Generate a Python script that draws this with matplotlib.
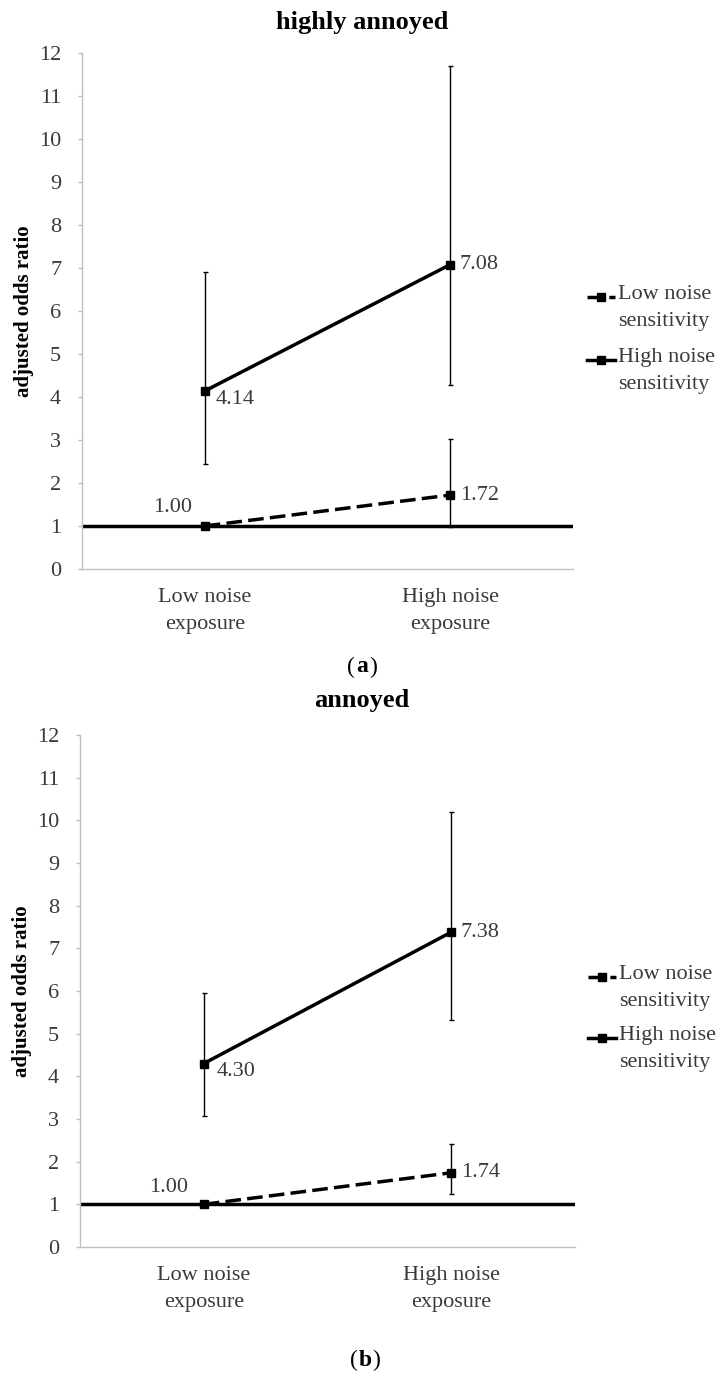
import matplotlib
matplotlib.use("Agg")
import matplotlib.pyplot as plt
from matplotlib.lines import Line2D
import numpy as np

# ------------------------------------------------
# Data
# ------------------------------------------------
categories = ["Low noise\nexposure", "High noise\nexposure"]
series_names = ["Low noise\nsensitivity", "High noise\nsensitivity"]
reference_or = 1.0

# (a) highly annoyed
a_low_sens = [1.00, 1.72]
a_low_sens_lo = [np.nan, 0.98]
a_low_sens_hi = [np.nan, 3.02]
a_high_sens = [4.14, 7.08]
a_high_sens_lo = [2.44, 4.28]
a_high_sens_hi = [6.91, 11.70]

# (b) annoyed
b_low_sens = [1.00, 1.74]
b_low_sens_lo = [np.nan, 1.24]
b_low_sens_hi = [np.nan, 2.41]
b_high_sens = [4.30, 7.38]
b_high_sens_lo = [3.08, 5.31]
b_high_sens_hi = [5.95, 10.20]

plt.rcParams["font.family"] = ["Liberation Serif", "DejaVu Serif"]

W, H = 719, 1376
fig = plt.figure(figsize=(W / 100, H / 100), dpi=100)

def fx(px):
    return px / W

def fy(py):
    return 1 - py / H

TXT = "#3a3a3a"
GRID = "#bfbfbf"
DASH = (0, (4.5, 1.8))


def draw_panel(rect, title, title_y, letter, letter_xy, low, low_lo, low_hi,
               high, high_lo, high_hi, label_offsets, legend_px):
    ax = fig.add_axes(rect)
    x = np.arange(len(categories))

    ax.axhline(reference_or, color="black", lw=2.5, zorder=2)

    # error bars
    for vals, lo, hi in [(low, low_lo, low_hi), (high, high_lo, high_hi)]:
        vals = np.array(vals)
        err = np.vstack([vals - np.array(lo), np.array(hi) - vals])
        ax.errorbar(x, vals, yerr=err, fmt="none", ecolor="black",
                    elinewidth=1.0, capsize=1.8, capthick=1.0, zorder=3)

    ax.plot(x, low, color="black", lw=2.5, ls=DASH,
            marker="s", ms=6, zorder=4)
    ax.plot(x, high, color="black", lw=2.5, ls="-",
            marker="s", ms=6, zorder=4)

    # value labels
    pts = [(0, low[0]), (1, low[1]), (0, high[0]), (1, high[1])]
    for (xi, yi), (dx, dy, ha) in zip(pts, label_offsets):
        ax.annotate(f"{yi:.2f}", (xi, yi), xytext=(dx, dy),
                    textcoords="offset points", ha=ha, va="center",
                    fontsize=16, color=TXT)

    ax.set_xlim(-0.5, 1.5)
    ax.set_ylim(0, 12)
    ax.set_yticks(range(0, 13))
    ax.set_xticks(x)
    ax.set_xticklabels(categories, fontsize=16, color=TXT, linespacing=1.55)
    ax.tick_params(axis="y", labelsize=16, labelcolor=TXT, color=GRID,
                   length=3, width=1, pad=12)
    ax.tick_params(axis="x", length=0, pad=14)
    for s in ["top", "right"]:
        ax.spines[s].set_visible(False)
    for s in ["left", "bottom"]:
        ax.spines[s].set_color(GRID)
        ax.spines[s].set_linewidth(1)

    ax.set_ylabel("adjusted odds ratio", fontsize=15, fontweight="bold",
                  color="black")
    ax.yaxis.set_label_coords(-0.097, 0.5)

    fig.text(fx(362), fy(title_y), title, ha="center", va="center",
             fontsize=19, fontweight="bold")

    lx, ly = letter_xy
    fig.text(fx(lx), fy(ly), letter, ha="center", va="center",
             fontsize=17, fontweight="bold")
    fig.text(fx(lx - 7), fy(ly), "(", ha="right", va="center", fontsize=17)
    fig.text(fx(lx + 7), fy(ly), ")", ha="left", va="center", fontsize=17)

    # legend
    styles = [DASH, "-"]
    for (hx0, hx1, hy), name, ls in zip(legend_px, series_names, styles):
        fig.add_artist(Line2D([fx(hx0), fx(hx1)], [fy(hy), fy(hy)],
                              transform=fig.transFigure, color="black",
                              lw=2.5, ls=ls))
        fig.add_artist(Line2D([fx((hx0 + hx1) / 2)], [fy(hy)],
                              transform=fig.transFigure, color="black",
                              marker="s", ms=6, ls="none"))
        fig.text(fx(hx1 + 3), fy(hy - 12), name, ha="left", va="top",
                 fontsize=16, color=TXT, linespacing=1.55)
    return ax


draw_panel([fx(82), fy(569), fx(573) - fx(82), (569 - 53) / H],
           "highly annoyed", 22, "a", (362, 667),
           a_low_sens, a_low_sens_lo, a_low_sens_hi,
           a_high_sens, a_high_sens_lo, a_high_sens_hi,
           [(-9, 13, "right"), (7, 0, "left"), (8, -6, "left"), (7, 0, "left")],
           [(587, 615, 297), (587, 615, 360)])

draw_panel([fx(80), fy(1247), fx(575) - fx(80), (1247 - 735) / H],
           "annoyed", 701, "b", (365, 1360),
           b_low_sens, b_low_sens_lo, b_low_sens_hi,
           b_high_sens, b_high_sens_lo, b_high_sens_hi,
           [(-11, 12, "right"), (7, 0, "left"), (9, -6, "left"), (7, 0, "left")],
           [(588, 616, 977), (588, 616, 1038)])

fig.savefig("out.png", dpi=100)
